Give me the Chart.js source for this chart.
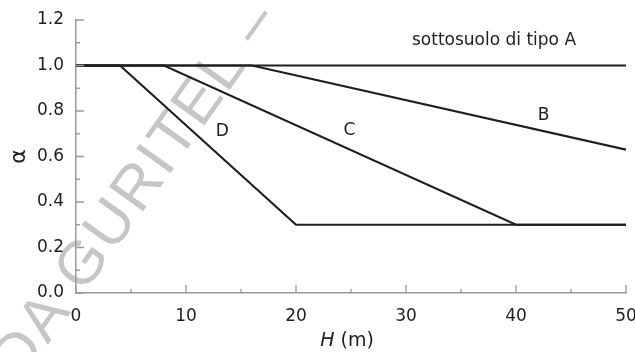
<!DOCTYPE html>
<html>
<head>
<meta charset="utf-8">
<script src="https://cdn.jsdelivr.net/npm/chart.js@4"></script>
<style>
html,body{margin:0;padding:0;background:#fff}
#wrap{width:635px;height:352px}
</style>
</head>
<body>
<div id="wrap"><canvas id="c"></canvas></div>
<script>
// H (m) breakpoints and alpha values for each soil type
const H_A = [0, 50],          ALPHA_A = [1, 1];
const H_B = [0, 16, 50],      ALPHA_B = [1, 1, 0.63];
const H_C = [0, 8, 40, 50],   ALPHA_C = [1, 1, 0.3, 0.3];
const H_D = [0, 4, 20, 50],   ALPHA_D = [1, 1, 0.3, 0.3];

const X_MAJOR = [0, 10, 20, 30, 40, 50];
const X_MINOR = [5, 15, 25, 35, 45];
const Y_MAJOR = [0, 0.2, 0.4, 0.6, 0.8, 1.0, 1.2];
const Y_MINOR = [0.1, 0.3, 0.5, 0.7, 0.9, 1.1];

// curve labels: [text, H, alpha]
const LABELS = [
  ['sottosuolo di tipo A', 38.0, 1.11],
  ['B', 42.5, 0.78],
  ['C', 24.85, 0.715],
  ['D', 13.3, 0.71]
];
const WATERMARK = 'DA GURITEL –';

const FONT = '"DejaVu Sans", "Liberation Sans", Arial, sans-serif';
const INK = '#1e1e1e';
const AXIS = '#9a9a9a';

const pts = (xs, ys) => xs.map((x, i) => ({x, y: ys[i]}));
const line = (xs, ys) => ({
  data: pts(xs, ys), showLine: true, pointRadius: 0, borderColor: INK,
  borderWidth: 2.2, fill: false, tension: 0
});

const extras = {
  id: 'extras',
  beforeDraw(chart){
    const ctx = chart.ctx;
    ctx.save();
    ctx.translate(7, 373);
    ctx.rotate(-54.5 * Math.PI / 180);
    ctx.font = '61px "Liberation Sans", Arial, sans-serif';
    ctx.fillStyle = '#c6c6c6';
    ctx.textBaseline = 'middle';
    ctx.letterSpacing = '2.5px';
    ctx.fillText(WATERMARK, 0, 0);
    ctx.restore();
  },
  afterDraw(chart){
    const {ctx, scales:{x, y}, chartArea:a} = chart;
    ctx.save();
    ctx.strokeStyle = AXIS; ctx.lineWidth = 1.3;
    ctx.beginPath();
    X_MAJOR.forEach(v => { const p = x.getPixelForValue(v); ctx.moveTo(p, a.bottom); ctx.lineTo(p, a.bottom - 8); });
    X_MINOR.forEach(v => { const p = x.getPixelForValue(v); ctx.moveTo(p, a.bottom); ctx.lineTo(p, a.bottom - 4); });
    Y_MAJOR.forEach(v => { const p = y.getPixelForValue(v); ctx.moveTo(a.left, p); ctx.lineTo(a.left + 8, p); });
    Y_MINOR.forEach(v => { const p = y.getPixelForValue(v); ctx.moveTo(a.left, p); ctx.lineTo(a.left + 4, p); });
    ctx.stroke();

    ctx.fillStyle = INK;
    ctx.font = '17px ' + FONT;
    ctx.textAlign = 'center'; ctx.textBaseline = 'middle';
    LABELS.forEach(([t, hx, ay]) => ctx.fillText(t, x.getPixelForValue(hx), y.getPixelForValue(ay)));

    // x title: italic H + (m)
    const italic = 'italic 19px ' + FONT, normal = '19px ' + FONT;
    ctx.textAlign = 'left';
    ctx.font = italic; const w1 = ctx.measureText('H').width;
    ctx.font = normal; const w2 = ctx.measureText(' (m)').width;
    const cx = (a.left + a.right) / 2 - 4, ty = chart.height - 11;
    ctx.font = italic; ctx.fillText('H', cx - (w1 + w2) / 2, ty);
    ctx.font = normal; ctx.fillText(' (m)', cx - (w1 + w2) / 2 + w1, ty);
    ctx.restore();
  }
};

new Chart(document.getElementById('c'), {
  type: 'scatter',
  data: { datasets: [line(H_A, ALPHA_A), line(H_B, ALPHA_B), line(H_C, ALPHA_C), line(H_D, ALPHA_D)] },
  options: {
    responsive: true, maintainAspectRatio: false, animation: false,
    layout: { padding: { top: 20, right: 9, left: 0, bottom: 0 } },
    plugins: { legend: { display: false }, tooltip: { enabled: false } },
    scales: {
      x: {
        type: 'linear', min: 0, max: 50,
        afterFit: s => { s.height = 59; s.paddingLeft = 0; s.paddingRight = 0; },
        grid: { display: false, drawTicks: false },
        border: { display: true, color: AXIS, width: 1.5 },
        ticks: { stepSize: 10, padding: 13, color: INK, font: { family: FONT, size: 17 } }
      },
      y: {
        min: 0, max: 1.2,
        afterFit: s => { s.width = 76; s.paddingTop = 0; s.paddingBottom = 0; },
        grid: { display: false, drawTicks: false },
        border: { display: true, color: AXIS, width: 1.5 },
        ticks: { stepSize: 0.2, padding: 12, color: INK, font: { family: FONT, size: 17 },
          callback: v => Number(v).toFixed(1) },
        title: { display: true, text: 'α', color: INK, font: { family: FONT, size: 22 }, padding: { top: 6, bottom: 0 } }
      }
    }
  },
  plugins: [extras]
});
</script>
</body>
</html>
